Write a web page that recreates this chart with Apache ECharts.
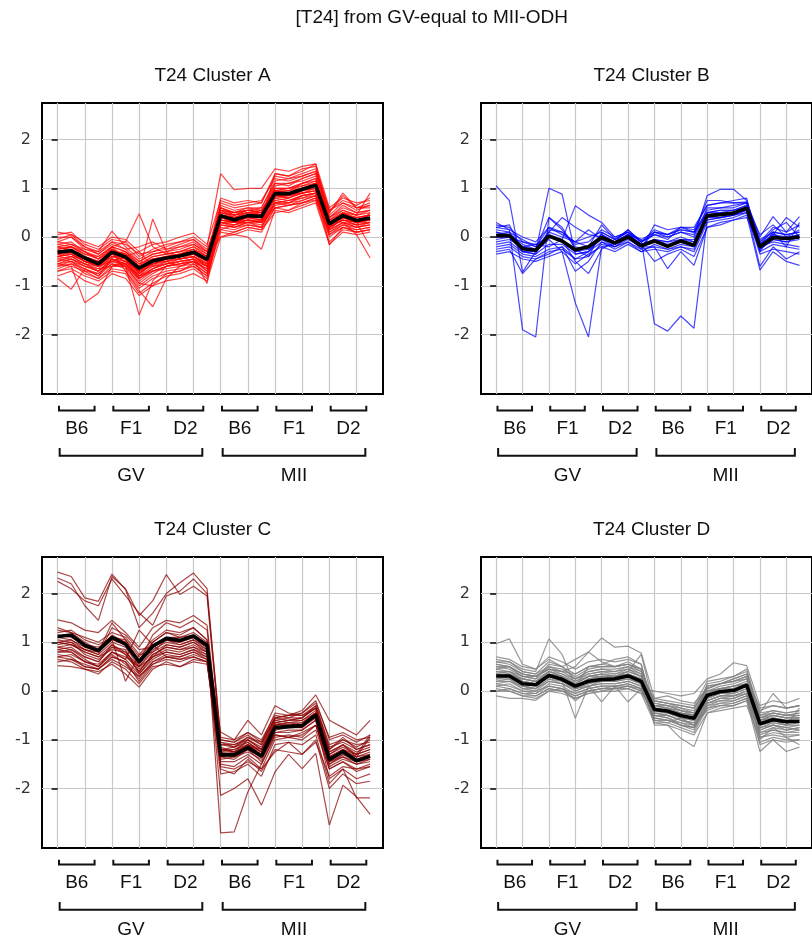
<!DOCTYPE html>
<html>
<head>
<meta charset="utf-8">
<script src="https://cdn.jsdelivr.net/npm/echarts@6/dist/echarts.min.js"></script>
<style>
  html, body { margin: 0; padding: 0; background: #fff; }
  #chart { width: 812px; height: 943px; }
</style>
</head>
<body>
<div id="chart"></div>
<script>
// ---- text ----
const figureTitle = '[T24] from GV-equal to MII-ODH';
const panelTitles = ['T24 Cluster A', 'T24 Cluster B', 'T24 Cluster C', 'T24 Cluster D'];
const strainLabels = ['B6', 'F1', 'D2', 'B6', 'F1', 'D2'];
const stageLabels = ['GV', 'MII'];

// ---- ticks ----
const yTickValues = [-2, -1, 0, 1, 2];
const xGridValues = [0, 2, 4, 6, 8, 10, 12, 14, 16, 18, 20, 22];

// ---- cluster A : mean profile and member genes (24 samples) ----
const meanA = [-0.31,-0.28,-0.43,-0.55,-0.31,-0.41,-0.64,-0.49,-0.43,-0.39,-0.31,-0.46, 0.44,0.35,0.44,0.42,0.89,0.89,0.98,1.06,0.27,0.44,0.34,0.39];
const profilesA = [
  [-0.05,0.05,-0.2,-0.35,-0.1,-0.15,-0.35,-0.3,-0.2,-0.1,-0.05,-0.3, 0.6,0.5,0.55,0.5,1.1,1.05,1.2,1.3,0.4,0.6,0.5,0.55],
  [-0.5,-0.45,-0.6,-0.7,-0.45,-0.55,-0.9,-0.7,-0.6,-0.55,-0.5,-0.65, 0.3,0.2,0.3,0.25,0.7,0.75,0.8,0.9,0.1,0.3,0.2,0.25],
  [-0.2,-0.15,-0.3,-0.45,-0.2,-0.1,0.48,-0.2,-0.35,-0.3,-0.2,-0.4, 0.5,0.4,0.45,0.5,0.95,0.9,1.0,1.1,0.3,0.5,0.4,0.45],
  [-0.4,-0.35,-0.5,-0.6,-0.35,-0.5,-0.7,0.37,-0.3,-0.45,-0.4,-0.55, 0.35,0.3,0.4,0.35,0.85,0.8,0.95,1.0,0.2,0.4,0.3,0.35],
  [-0.55,-0.6,-1.35,-1.15,-0.6,-0.55,-0.8,-0.65,-0.5,-0.6,-0.5,-0.7, 0.2,0.15,0.25,0.2,0.7,0.65,0.75,0.85,0.05,0.25,0.15,0.2],
  [-0.4,-0.3,-0.5,-0.6,-0.5,-0.6,-1.6,-0.9,-0.6,-0.5,-0.45,-0.6, 0.45,0.4,0.5,0.45,0.9,0.95,1.0,1.1,0.3,0.45,0.35,0.4],
  [-0.3,-0.25,-0.45,-0.5,-0.3,-0.7,-1.1,-1.43,-0.85,-0.6,-0.5,-0.6, 0.4,0.3,0.4,0.4,0.85,0.85,0.95,1.05,0.25,0.4,0.3,0.35],
  [-0.85,-1.07,-0.65,-0.8,-0.55,-0.6,-0.85,-0.7,-0.65,-0.6,-0.55,-0.75, 0.15,0.1,0.2,0.15,0.6,0.65,0.7,0.8,0.0,0.2,0.1,0.15],
  [0.05,0.1,-0.15,-0.25,-0.05,-0.1,-0.4,-0.25,-0.15,-0.1,0.0,-0.2, 1.3,0.97,1.0,1.0,1.4,1.35,1.45,1.5,0.6,0.8,0.7,0.75],
  [-0.6,-0.5,-0.7,-0.75,-0.55,-0.65,-1.0,-0.8,-0.7,-0.65,-0.6,-0.8, 0.1,0.05,0.0,-0.25,0.55,0.5,0.6,0.7,-0.15,0.1,0.05,0.1],
  [-0.25,-0.2,-0.35,-0.45,-0.25,-0.35,-0.55,-0.45,-0.4,-0.35,-0.25,-0.4, 0.5,0.45,0.5,0.45,0.95,0.9,1.0,1.1,0.35,0.3,0.05,-0.43],
  [-0.15,-0.1,-0.3,-0.4,-0.2,-0.3,-0.5,-0.35,-0.3,-0.25,-0.15,-0.35, 0.55,0.5,0.55,0.55,1.0,1.0,1.1,1.2,0.4,0.55,0.45,0.5],
  [-0.7,-0.65,-0.8,-0.9,-0.7,-0.75,-1.15,-0.95,-0.8,-0.75,-0.65,-0.85, 0.25,0.2,0.3,0.3,0.75,0.7,0.85,0.9,0.15,0.3,0.25,0.3],
  [-0.35,-0.4,-0.45,-0.55,-0.25,-0.45,-0.6,-0.55,-0.45,-0.4,-0.3,-0.5, 0.65,0.55,0.6,0.6,1.15,1.2,1.25,1.35,0.45,0.7,0.55,0.65],
  [-0.1,0.0,-0.25,-0.3,0.12,-0.2,-0.45,-0.3,-0.25,-0.2,-0.1,-0.3, 0.35,0.3,0.35,0.3,0.8,0.85,0.9,0.95,0.2,0.35,0.3,0.3],
  [-0.45,-0.4,-0.55,-0.65,-0.4,-0.45,-0.75,-0.55,-0.5,-0.45,-0.4,-0.55, 0.7,0.6,0.65,0.7,1.25,1.2,1.3,1.4,0.5,0.85,0.6,0.7],
  [-0.2,-0.25,-0.4,-0.5,-0.35,-0.3,-0.6,-0.4,-0.35,-0.3,-0.25,-0.4, 0.0,0.1,0.2,0.15,0.5,0.55,0.65,0.75,-0.1,0.15,0.1,0.15],
  [-0.55,-0.5,-0.6,-0.65,-0.6,-0.5,-0.8,-0.6,-0.55,-0.5,-0.45,-0.95, 0.4,0.35,0.4,0.35,0.9,0.85,0.95,1.05,0.2,0.5,0.35,0.4],
  [-0.3,-0.3,-0.4,-0.5,-0.3,-0.4,-0.3,-0.6,-0.4,-0.4,-0.35,-0.45, 0.55,0.4,0.5,0.55,0.95,1.0,1.05,1.1,0.3,0.45,0.4,0.45],
  [-0.65,-0.55,-0.75,-0.85,-0.6,-0.6,-0.95,-1.0,-0.75,-0.7,-0.55,-0.75, 0.3,0.25,0.35,0.3,0.7,0.75,0.85,0.9,0.2,0.35,0.25,0.3],
  [0.0,0.0,-0.2,-0.3,-0.1,-0.25,-0.2,-0.1,-0.25,-0.15,-0.05,-0.25, 0.45,0.35,0.45,0.4,1.0,0.95,1.1,1.15,0.35,0.55,0.45,0.9],
  [-0.4,-0.35,-0.5,-0.55,-0.4,-0.5,-0.7,-0.55,-0.45,-0.45,-0.35,-0.5, 0.6,0.5,0.6,0.55,0.85,0.9,0.9,1.0,0.25,0.4,0.3,0.35],
  [-0.25,-0.2,-0.3,-0.45,-0.3,-0.35,-0.65,-0.45,-0.4,-0.35,-0.3,-0.4, 0.3,0.25,0.35,0.35,1.3,1.25,1.35,1.5,0.3,0.5,0.35,0.4],
  [-0.5,-0.4,-0.55,-0.7,-0.45,-0.5,-0.85,-0.65,-0.55,-0.5,-0.45,-0.6, 0.5,0.45,0.5,0.5,0.85,0.85,0.95,1.0,0.3,0.4,0.3,0.35],
  [-0.35,-0.3,-0.45,-0.6,-0.4,-0.4,-0.75,-0.5,-0.5,-0.4,-0.35,-0.55, 0.4,0.3,0.4,0.4,0.85,0.8,0.9,0.95,-0.16,0.2,0.15,0.2],
  [-0.15,-0.2,-0.35,-0.4,-0.2,-0.3,-0.55,-0.4,-0.35,-0.3,-0.2,-0.35, 0.55,0.45,0.55,0.5,1.05,1.1,1.15,1.25,0.5,0.9,0.6,0.6],
  [-0.6,-0.55,-0.65,-0.75,-0.5,-0.55,-0.8,-0.7,-0.6,-0.55,-0.5,-0.65, 0.35,0.3,0.35,0.3,0.6,0.65,0.7,0.76,0.25,0.35,0.3,-0.19],
  [-0.3,-0.35,-0.5,-0.6,-0.35,-0.45,-0.7,-0.5,-0.45,-0.4,-0.3,-0.5, 0.45,0.4,0.45,0.45,0.75,0.8,0.9,0.95,0.35,0.45,0.4,0.45],
  [-0.8,-0.7,-0.9,-1.0,-0.75,-0.85,-1.2,-1.0,-0.9,-0.85,-0.75,-0.9, 0.0,0.05,0.15,0.1,0.6,0.55,0.7,0.8,0.05,0.2,0.1,0.15],
  [0.1,0.05,-0.1,-0.2,0.0,-0.05,-0.3,-0.15,-0.1,0.0,0.08,-0.15, 0.75,0.65,0.7,0.75,1.2,1.15,1.25,1.35,0.55,0.75,0.65,0.8],
  [-0.45,-0.5,-0.65,-0.8,-0.45,-0.6,-0.95,-0.75,-0.6,-0.55,-0.45,-0.7, 0.55,0.5,0.55,0.6,1.1,1.1,1.2,1.3,0.4,0.65,0.5,0.55],
  [-0.25,-0.2,-0.4,-0.55,-0.2,-0.45,-0.8,-0.5,-0.4,-0.35,-0.25,-0.5, 0.25,0.2,0.25,0.2,0.7,0.7,0.8,0.85,0.15,0.3,0.2,0.25],
  [-0.55,-0.45,-0.6,-0.7,-0.5,-0.4,-0.7,-0.6,-0.5,-0.45,-0.4,-0.6, 0.6,0.45,0.55,0.5,0.95,0.95,1.05,1.15,0.35,0.5,0.45,0.55],
  [-0.1,-0.15,-0.25,-0.35,-0.15,-0.25,-0.5,-0.35,-0.3,-0.2,-0.15,-0.3, 0.15,0.25,0.3,0.2,0.65,0.7,0.75,0.85,0.1,0.25,0.2,0.3],
  [-0.7,-0.6,-0.7,-0.85,-0.65,-0.7,-1.05,-0.85,-0.75,-0.7,-0.6,-0.8, 0.45,0.4,0.45,0.45,1.0,1.0,1.1,1.2,0.3,0.5,0.35,0.45],
  [-0.35,-0.25,-0.45,-0.55,-0.3,-0.35,-0.6,-0.45,-0.4,-0.35,-0.3,-0.45, 0.8,0.7,0.75,0.7,1.3,1.25,1.4,1.45,0.55,0.7,0.6,0.65],
  [-0.2,-0.3,-0.5,-0.6,-0.25,-0.4,-0.75,-0.55,-0.45,-0.4,-0.3,-0.45, 0.35,0.3,0.3,0.35,0.8,0.75,0.85,0.9,0.2,0.35,0.25,0.5],
  [-0.4,-0.45,-0.55,-0.6,-0.45,-0.55,-0.85,-0.65,-0.55,-0.45,-0.4,-0.6, 0.3,0.3,0.35,0.3,0.95,0.9,1.0,1.05,0.15,0.4,0.3,0.4]
];

// ---- cluster B ----
const meanB = [0.03,0.03,-0.24,-0.27,0.02,-0.08,-0.26,-0.2,-0.01,-0.12,0.0,-0.18, -0.08,-0.19,-0.08,-0.17,0.44,0.46,0.49,0.6,-0.2,-0.01,-0.03,0.0];
const profilesB = [
  [1.05,0.75,-0.72,-0.3,0.0,-0.1,-0.3,-0.2,0.05,-0.1,0.05,-0.15, -0.05,-0.15,-0.05,-0.1,0.5,0.55,0.55,0.65,-0.2,0.0,-0.05,0.05],
  [0.3,0.15,-1.9,-2.05,0.4,0.15,-0.2,-0.25,-0.05,-0.15,0.0,-0.2, -0.1,-0.2,-0.1,-0.2,0.4,0.45,0.5,0.6,-0.25,-0.05,-0.1,-0.05],
  [0.1,0.0,-0.3,-0.3,1.0,0.88,-0.35,-0.3,0.0,-0.1,0.05,-0.15, -0.05,-0.1,0.0,-0.1,0.45,0.5,0.5,0.6,-0.15,0.05,0.0,0.05],
  [-0.1,-0.05,-0.2,-0.15,-0.2,-0.05,0.64,0.45,0.3,0.0,0.1,-0.1, 0.1,0.05,0.15,0.1,0.55,0.6,0.65,0.7,-0.1,0.2,0.1,0.25],
  [0.0,0.05,-0.25,-0.3,-0.05,-0.3,-1.35,-2.05,-0.2,-0.15,0.0,-0.2, -0.1,-0.2,-0.1,-0.15,0.4,0.4,0.45,0.55,-0.25,-0.05,-0.1,0.0],
  [0.25,0.2,-0.1,-0.2,0.05,-0.05,-0.5,-0.75,-0.25,-0.1,0.05,-0.05, -1.78,-1.93,-1.62,-1.87,0.35,0.4,0.45,0.55,-0.2,0.05,-0.05,0.0],
  [-0.3,-0.25,-0.75,-0.45,-0.35,-0.2,-0.7,-0.5,-0.1,-0.2,-0.05,-0.2, -0.2,-0.65,-0.3,-0.58,0.2,0.25,0.35,0.45,-0.68,-0.3,-0.5,-0.58],
  [0.15,0.1,-0.05,-0.2,0.2,0.1,-0.15,-0.1,0.15,0.0,0.1,-0.1, 0.05,0.0,0.1,0.0,0.85,0.98,0.98,0.75,-0.1,0.1,0.05,0.1],
  [-0.2,-0.15,-0.35,-0.4,-0.25,-0.2,-0.45,-0.3,-0.1,-0.25,-0.1,-0.3, -0.25,-0.3,-0.2,-0.3,0.3,0.35,0.4,0.5,-0.35,-0.25,-0.3,-0.35],
  [0.05,0.1,-0.2,-0.25,0.1,0.0,-0.1,-0.2,0.25,-0.05,0.15,-0.1, 0.15,0.05,0.2,0.15,0.65,0.7,0.7,0.72,0.0,0.42,0.1,0.42],
  [-0.05,0.0,-0.1,-0.15,0.0,-0.1,-0.3,-0.25,0.05,-0.1,0.05,-0.15, -0.05,-0.1,-0.05,-0.05,0.6,0.6,0.6,0.7,-0.15,0.05,0.4,0.2],
  [0.2,0.25,-0.3,-0.35,0.15,0.1,-0.1,0.15,-0.05,-0.2,0.0,-0.25, 0.25,0.15,0.2,0.2,0.65,0.7,0.75,0.8,-0.3,0.1,-0.2,0.3],
  [-0.35,-0.3,-0.45,-0.5,-0.4,-0.3,-0.55,-0.35,-0.2,-0.3,-0.15,-0.3, -0.15,-0.25,-0.15,-0.2,0.45,0.45,0.5,0.55,-0.6,-0.2,-0.45,-0.3],
  [0.1,0.05,-0.15,-0.25,0.4,0.2,-0.25,-0.4,0.1,-0.05,0.1,-0.2, 0.1,0.0,0.1,0.05,0.5,0.55,0.55,0.65,0.05,0.25,0.0,0.15],
  [-0.15,-0.1,-0.3,-0.35,-0.15,-0.15,-0.35,-0.3,0.0,-0.15,0.05,-0.15, -0.5,-0.35,-0.25,-0.4,0.2,0.3,0.35,0.4,-0.2,-0.1,-0.15,-0.2],
  [0.0,0.0,-0.2,-0.3,0.1,0.4,0.2,0.05,0.0,-0.1,0.15,-0.1, 0.05,-0.05,0.2,0.1,0.75,0.75,0.7,0.7,-0.15,0.15,0.3,0.0],
  [0.2,0.15,0.0,-0.1,0.2,0.05,-0.1,0.0,0.1,-0.05,0.1,-0.05, 0.1,0.05,0.15,0.1,0.5,0.5,0.55,0.6,-0.05,0.1,0.05,0.1],
  [-0.25,-0.2,-0.4,-0.45,-0.3,-0.25,-0.45,-0.4,-0.15,-0.2,-0.1,-0.25, -0.2,-0.25,-0.2,-0.25,0.35,0.4,0.45,0.5,-0.3,-0.15,-0.2,-0.25]
];

// ---- cluster C ----
const meanC = [1.12,1.15,0.94,0.83,1.1,0.96,0.6,0.92,1.08,1.04,1.13,0.94, -1.31,-1.31,-1.16,-1.34,-0.75,-0.73,-0.71,-0.49,-1.41,-1.24,-1.43,-1.34];
const profilesC = [
  [2.44,2.35,1.91,1.84,2.4,2.08,1.3,1.6,2.0,2.22,2.42,2.1, -1.0,-1.05,-0.9,-1.1,-0.55,-0.5,-0.5,-0.3,-1.1,-1.0,-1.15,-1.0],
  [2.32,2.2,1.75,1.45,2.35,2.1,1.55,1.85,2.39,1.98,2.15,1.95, -1.1,-1.15,-1.0,-1.2,-0.65,-0.6,-0.6,-0.45,-1.25,-1.1,-1.25,-1.15],
  [2.25,2.1,1.85,1.75,2.3,1.95,1.6,1.35,1.95,2.05,2.3,2.0, -0.95,-1.0,-0.85,-1.0,-0.5,-0.55,-0.45,-0.2,-1.0,-0.9,-1.05,-0.9],
  [1.46,1.4,1.25,1.2,1.45,1.2,0.9,1.3,1.45,1.4,1.55,1.35, -1.2,-1.2,-1.05,-1.25,-0.7,-0.7,-0.65,-0.45,-1.35,-1.2,-1.35,-1.25],
  [1.25,1.2,1.0,0.85,1.15,1.0,0.55,1.0,1.2,1.15,1.3,1.05, -2.91,-2.89,-2.07,-1.5,-0.9,-0.95,-0.85,-0.7,-1.5,-1.35,-1.5,-1.4],
  [1.0,1.05,0.85,0.75,1.0,0.9,0.5,0.85,1.0,0.95,1.05,0.85, -2.14,-2.0,-1.8,-2.34,-1.66,-1.3,-1.59,-1.28,-2.75,-1.93,-2.17,-2.53],
  [0.85,0.9,0.7,0.6,0.95,0.75,0.4,0.75,0.9,0.85,0.95,0.8, -1.4,-1.35,-1.25,-1.4,-0.85,-0.8,-0.8,-0.6,-1.8,-1.6,-2.19,-2.19],
  [0.52,0.5,0.45,0.4,0.55,0.35,0.08,0.45,0.6,0.5,0.6,0.55, -1.3,-1.25,-1.15,-1.3,-0.75,-0.7,-0.7,-0.55,-1.45,-1.3,-1.4,-1.35],
  [1.1,1.15,0.9,0.8,1.05,0.2,0.75,0.8,1.05,1.0,1.1,0.9, -1.25,-1.3,-1.1,-1.3,-0.7,-0.65,-0.7,-0.45,-1.4,-1.2,-1.4,-1.3],
  [0.75,0.7,0.5,0.45,0.7,0.6,0.3,0.6,0.75,0.7,0.8,0.65, -1.05,-1.1,-0.95,-1.05,-0.45,-0.5,-0.4,-0.08,-0.6,-0.75,-0.9,-0.6],
  [0.9,0.95,0.8,0.7,0.85,0.8,0.45,0.7,0.85,0.8,0.9,0.75, -1.5,-1.55,-1.35,-1.6,-1.0,-0.95,-1.0,-0.8,-1.6,-1.45,-1.6,-1.5],
  [1.2,1.25,1.05,0.95,1.1,1.05,0.7,1.0,1.2,1.1,1.2,1.0, -0.84,-1.0,-0.6,-0.9,-0.3,-0.45,-0.5,-0.35,-1.2,-0.95,-1.2,-1.1],
  [0.65,0.6,0.45,0.35,0.6,0.45,0.15,0.5,0.55,0.5,0.65,0.6, -1.7,-1.65,-1.5,-1.75,-1.1,-1.05,-1.1,-0.9,-1.9,-1.6,-1.8,-1.7],
  [1.05,1.0,0.85,0.75,1.3,1.15,0.85,0.9,1.05,0.95,1.05,0.9, -1.15,-1.25,-1.0,-1.2,-0.6,-0.65,-0.6,-0.4,-1.3,-1.15,-1.3,-1.2],
  [0.8,0.85,0.65,0.5,0.8,0.65,1.25,0.95,0.7,0.7,0.8,0.7, -1.35,-1.4,-1.2,-1.35,-0.8,-0.75,-0.75,-0.55,-1.5,-1.3,-1.45,-1.35],
  [0.95,1.0,0.75,0.65,0.9,0.85,0.35,0.7,0.95,0.9,1.0,0.8, -1.2,-1.15,-1.05,-1.25,-0.65,-0.6,-0.55,-0.35,-1.3,-1.1,-1.35,-1.3],
  [0.7,0.75,0.6,0.5,0.75,0.55,0.25,0.6,0.7,0.65,0.75,0.65, -1.6,-1.7,-1.4,-1.65,-1.2,-1.25,-1.3,-1.05,-1.75,-1.55,-1.6,-1.55],
  [1.15,1.1,0.95,0.9,1.1,1.0,0.65,0.95,1.1,1.1,1.15,0.95, -1.05,-1.15,-0.95,-1.1,-0.55,-0.6,-0.55,-0.3,-1.15,-1.05,-1.2,-1.1],
  [0.85,0.8,0.6,0.55,0.8,0.7,0.5,0.7,0.8,0.75,0.85,0.75, -1.35,-1.3,-1.2,-1.45,-0.85,-0.85,-0.8,-0.6,-1.55,-1.4,-1.5,-1.45],
  [1.0,0.95,0.85,0.8,1.4,1.05,0.6,1.15,1.4,1.3,1.45,1.25, -1.2,-1.25,-1.1,-1.2,-0.7,-0.65,-0.65,-0.45,-1.25,-1.1,-1.3,-0.9],
  [0.6,0.65,0.5,0.45,0.65,0.5,0.3,0.55,0.65,0.6,0.7,0.6, -1.45,-1.45,-1.3,-1.5,-0.95,-0.9,-0.95,-0.7,-1.6,-1.45,-1.65,-1.55],
  [1.3,1.2,1.1,1.0,1.2,1.1,0.75,1.05,1.25,1.2,1.3,1.05, -1.25,-1.2,-1.1,-1.25,-0.65,-0.7,-0.7,-0.5,-1.35,-1.25,-1.35,-0.95],
  [0.9,0.85,0.7,0.6,0.9,0.75,0.4,0.75,0.9,0.85,0.9,0.8, -1.1,-1.1,-1.0,-1.15,-0.6,-0.55,-0.55,-0.35,-1.2,-1.0,-1.1,-1.05],
  [1.1,1.05,0.9,0.85,1.05,0.95,0.55,0.9,1.05,1.0,1.1,0.9, -1.55,-1.6,-1.45,-1.6,-1.25,-1.05,-1.3,-1.0,-2.0,-1.7,-1.9,-1.85],
  [0.7,0.65,0.55,0.45,0.7,0.6,0.2,0.55,0.7,0.65,0.7,0.6, -1.2,-1.25,-1.1,-1.3,-0.75,-0.7,-0.75,-0.5,-1.35,-1.2,-1.3,-1.2],
  [1.0,0.95,0.8,0.7,0.95,0.8,0.5,0.8,0.95,0.9,1.0,0.85, -1.0,-1.05,-0.85,-1.05,-0.55,-0.5,-0.45,-0.25,-0.95,-0.85,-1.0,-0.95],
  [0.8,0.8,0.6,0.5,0.8,0.65,0.35,0.65,0.8,0.75,0.85,0.7, -1.3,-1.35,-1.2,-1.35,-0.9,-0.95,-0.9,-0.7,-1.45,-1.35,-1.45,-1.4]
];

// ---- cluster D ----
const meanD = [0.31,0.31,0.15,0.13,0.32,0.24,0.1,0.2,0.24,0.25,0.31,0.2, -0.38,-0.41,-0.5,-0.56,-0.09,-0.01,0.01,0.12,-0.67,-0.59,-0.63,-0.62];
const profilesD = [
  [0.97,1.07,0.55,0.45,0.65,0.5,0.25,0.4,0.45,0.4,0.5,0.35, -0.2,-0.25,-0.3,-0.35,0.1,0.15,0.2,0.3,-0.5,-0.4,-0.45,-0.4],
  [0.65,0.6,0.45,0.4,1.07,0.75,0.1,0.5,0.55,0.5,0.6,0.45, -0.3,-0.35,-0.4,-0.5,0.0,0.05,0.1,0.2,-0.6,-0.5,-0.55,-0.55],
  [0.55,0.5,0.3,0.25,0.55,0.5,0.65,0.8,1.09,0.9,0.92,0.78, -0.15,-0.2,-0.25,-0.3,0.2,0.25,0.3,0.4,-0.4,-0.3,-0.35,-0.3],
  [-0.1,-0.15,-0.15,-0.19,0.0,0.05,-0.2,0.0,0.05,0.1,0.15,0.05, -0.55,-0.6,-0.7,-0.8,-0.3,-0.2,-0.2,-0.1,-0.9,-0.8,-0.85,-0.85],
  [0.3,0.35,0.1,0.05,0.35,0.2,-0.56,0.1,0.2,0.2,0.25,0.15, -0.4,-0.45,-0.55,-0.6,-0.15,-0.05,-0.05,0.05,-0.75,-0.65,-0.7,-0.7],
  [0.2,0.25,0.05,0.0,0.2,0.15,0.05,0.1,-0.22,0.1,-0.22,0.05, -0.45,-0.5,-0.6,-0.65,-0.2,-0.1,-0.1,0.0,-0.8,-0.7,-0.75,-0.7],
  [0.4,0.4,0.25,0.2,0.4,0.3,0.15,0.3,0.35,0.35,0.4,0.3, -0.7,-0.7,-0.97,-1.14,-0.45,-0.35,-0.3,-0.2,-1.24,-1.0,-1.24,-1.15],
  [0.15,0.1,0.0,-0.05,0.15,0.1,-0.05,0.05,0.1,0.1,0.15,0.05, 0.0,-0.05,-0.1,-0.05,0.25,0.35,0.58,0.52,-0.3,-0.2,-0.25,-0.15],
  [0.5,0.45,0.3,0.3,0.45,0.35,0.2,0.35,0.4,0.4,0.45,0.35, -0.25,-0.3,-0.35,-0.45,0.05,0.15,0.25,0.35,-0.45,-0.05,-0.35,-0.3],
  [0.25,0.3,0.15,0.1,0.3,0.2,0.05,0.15,0.2,0.2,0.3,0.15, -0.5,-0.55,-0.65,-0.7,-0.25,-0.2,-0.15,-0.05,-0.95,-0.85,-0.9,-0.9],
  [0.1,0.15,0.0,0.0,0.1,0.05,-0.1,0.0,0.05,0.05,0.1,0.0, -0.35,-0.4,-0.45,-0.5,-0.1,0.0,0.0,0.1,-0.6,-0.55,-0.6,-0.55],
  [0.6,0.55,0.4,0.35,0.5,0.45,0.3,0.45,0.5,0.5,0.55,0.4, -0.35,-0.35,-0.45,-0.5,-0.05,0.05,0.1,0.15,-0.55,-0.5,-0.55,-0.5],
  [0.35,0.3,0.2,0.15,0.3,0.25,0.1,0.25,0.3,0.3,0.35,0.25, -0.6,-0.65,-0.75,-0.85,-0.35,-0.3,-0.25,-0.15,-1.05,-0.95,-1.0,-1.0],
  [0.05,0.0,-0.1,-0.1,0.05,0.0,-0.15,-0.05,0.0,0.05,0.05,-0.05, -0.3,-0.3,-0.4,-0.45,0.0,0.05,0.1,0.15,-0.55,-0.45,-0.5,-0.45],
  [0.45,0.5,0.35,0.3,0.45,0.4,0.35,0.5,0.55,0.65,0.7,0.55, -0.45,-0.5,-0.6,-0.65,-0.2,-0.1,-0.05,0.05,-0.7,-0.6,-0.65,-0.65],
  [0.2,0.2,0.05,0.05,0.25,0.15,0.0,0.1,0.15,0.15,0.2,0.1, -0.65,-0.65,-0.55,-0.7,-0.4,-0.3,-0.3,-0.2,-0.85,-0.75,-0.8,-0.75],
  [0.3,0.35,0.2,0.15,0.3,0.25,0.15,0.3,0.3,0.3,0.35,0.25, -0.2,-0.25,-0.35,-0.4,0.1,0.15,0.25,0.35,-0.6,-0.55,-0.6,-0.6],
  [0.7,0.65,0.5,0.45,0.7,0.6,0.45,0.6,0.65,0.6,0.65,0.55, -0.5,-0.55,-0.7,-0.75,-0.25,-0.15,-0.1,-0.05,-0.65,-0.6,-0.7,-0.65],
  [0.0,0.05,-0.05,-0.1,0.05,0.0,-0.1,0.0,0.05,0.05,0.1,0.0, -0.55,-0.6,-0.65,-0.75,-0.35,-0.25,-0.25,-0.15,-1.1,-1.0,-1.05,-1.0],
  [0.35,0.3,0.25,0.2,0.35,0.3,0.2,0.3,0.35,0.3,0.4,0.75, -0.35,-0.4,-0.5,-0.55,-0.1,0.0,0.05,0.15,-0.7,-0.65,-0.7,-0.35],
  [0.5,0.5,0.35,0.3,0.5,0.4,0.5,0.8,0.6,0.5,0.55,0.45, -0.25,-0.3,-0.4,-0.45,0.0,0.1,0.15,0.25,-0.5,-0.45,-0.5,-0.45],
  [0.15,0.2,0.1,0.05,0.2,0.15,0.0,0.1,0.15,0.15,0.2,0.1, -0.4,-0.45,-0.5,-0.55,-0.2,-0.1,-0.1,0.0,-0.8,-0.7,-0.75,-0.8],
  [0.45,0.4,0.3,0.25,0.4,0.35,0.25,0.35,0.4,0.35,0.45,0.3, -0.15,-0.1,-0.2,-0.25,0.05,0.15,0.2,0.25,-0.35,-0.3,-0.35,-0.3],
  [0.25,0.25,0.1,0.05,0.25,0.2,0.05,0.15,0.25,0.2,0.25,0.15, -0.6,-0.6,-0.7,-0.75,-0.3,-0.25,-0.2,-0.1,-0.75,-0.7,-0.8,-0.75],
  [0.55,0.5,0.35,0.3,0.45,0.4,0.25,0.4,0.45,0.45,0.5,0.4, -0.45,-0.45,-0.55,-0.6,0.15,0.2,0.3,0.45,-0.55,-0.45,-0.5,-0.5],
  [0.1,0.05,-0.05,-0.05,0.1,0.05,-0.05,0.05,0.1,0.1,0.1,0.05, -0.5,-0.5,-0.6,-0.7,-0.25,-0.15,-0.15,-0.05,-0.85,-0.8,-0.85,-0.8],
  [0.35,0.4,0.2,0.15,0.4,0.3,0.1,0.25,0.3,0.3,0.35,0.25, -0.3,-0.35,-0.45,-0.5,-0.05,0.05,0.05,0.15,-1.0,-0.75,-0.95,-1.1],
  [0.6,0.6,0.4,0.35,0.6,0.5,0.35,0.5,0.5,0.5,0.55,0.45, -0.4,-0.4,-0.5,-0.55,-0.15,-0.05,0.0,0.1,-0.45,-0.4,-0.45,-0.4],
  [0.0,0.0,-0.1,-0.15,0.0,-0.05,-0.15,-0.05,0.0,0.0,0.05,-0.05, -0.65,-0.7,-0.8,-0.9,-0.45,-0.4,-0.35,-0.3,-0.95,-0.9,-0.95,-0.9],
  [0.4,0.35,0.25,0.2,0.35,0.3,0.15,0.3,0.35,0.3,0.4,0.3, -0.2,-0.25,-0.3,-0.35,0.05,0.15,0.2,0.3,-0.6,-0.5,-0.55,-0.55]
];

// ---- layout and styling ----
const X_MIN = -1.15, X_MAX = 23.95;
const Y_MIN = -3.22, Y_MAX = 2.75;
const GRID_W = 341, GRID_H = 291;
const panels = [
  { left: 42,  top: 103, color: 'rgba(255,0,0,0.72)',   profiles: profilesA, mean: meanA },
  { left: 481, top: 103, color: 'rgba(0,0,255,0.72)',   profiles: profilesB, mean: meanB },
  { left: 42,  top: 557, color: 'rgba(139,0,0,0.72)',   profiles: profilesC, mean: meanC },
  { left: 481, top: 557, color: 'rgba(128,128,128,0.8)', profiles: profilesD, mean: meanD }
];
const SANS = '"Liberation Sans", Arial, Helvetica, sans-serif';

// bracket rows under every panel: strain groups of 4 samples, stage groups of 12
const bracketRows = [];
strainLabels.forEach((_, g) => bracketRows.push([g * 4 + 0.1, g * 4 + 2.72, Y_MIN, 0, g]));
stageLabels.forEach((_, s) => bracketRows.push([s * 12 + 0.15, s * 12 + 10.65, Y_MIN, 1, s]));

function renderBracket(params, api) {
  const level = api.value(3);
  const idx = api.value(4);
  const p0 = api.coord([api.value(0), Y_MIN]);
  const p1 = api.coord([api.value(1), Y_MIN]);
  const base = p0[1];
  const hy = base + (level ? 61.7 : 16.4);
  const uy = base + (level ? 54 : 11.7);
  const ty = base + (level ? 81.4 : 34.7);
  const text = level ? stageLabels[idx] : strainLabels[idx];
  return {
    type: 'group',
    children: [
      { type: 'polyline',
        shape: { points: [[p0[0], uy], [p0[0], hy], [p1[0], hy], [p1[0], uy]] },
        style: { stroke: '#111', lineWidth: 2, fill: null } },
      { type: 'text', x: (p0[0] + p1[0]) / 2, y: ty,
        style: { text: text, font: '19px ' + SANS, fill: '#111', align: 'center', verticalAlign: 'middle' } }
    ]
  };
}

const grids = [], xAxes = [], yAxes = [], series = [], graphics = [];
panels.forEach((p, gi) => {
  grids.push({ left: p.left, top: p.top, width: GRID_W, height: GRID_H, show: true,
    borderColor: '#000', borderWidth: 2, backgroundColor: '#fff' });
  xAxes.push({ type: 'value', gridIndex: gi, min: X_MIN, max: X_MAX,
    axisLine: { show: false }, axisLabel: { show: false },
    axisTick: { show: false, customValues: xGridValues },
    splitLine: { show: true, lineStyle: { color: '#c8c8c8', width: 1.2 } } });
  yAxes.push({ type: 'value', gridIndex: gi, min: Y_MIN, max: Y_MAX,
    axisLine: { show: false },
    axisTick: { show: true, length: 6, customValues: yTickValues, lineStyle: { color: '#000', width: 1.5 } },
    axisLabel: { show: true, customValues: yTickValues, margin: 11, fontSize: 16,
      fontFamily: '"DejaVu Sans", sans-serif', color: '#333' },
    splitLine: { show: true, lineStyle: { color: '#c8c8c8', width: 1.2 } } });
  p.profiles.forEach(vals => {
    series.push({ type: 'line', xAxisIndex: gi, yAxisIndex: gi, silent: true, symbol: 'none',
      data: vals.map((v, i) => [i, v]), lineStyle: { color: p.color, width: 1.2 }, z: 2 });
  });
  series.push({ type: 'line', xAxisIndex: gi, yAxisIndex: gi, silent: true, symbol: 'none',
    data: p.mean.map((v, i) => [i, v]), lineStyle: { color: '#000', width: 3.6 }, z: 3 });
  series.push({ type: 'custom', xAxisIndex: gi, yAxisIndex: gi, silent: true, clip: false,
    renderItem: renderBracket, encode: { x: [0, 1], y: 2 }, data: bracketRows, z: 4 });
  graphics.push({ type: 'text', x: p.left + GRID_W / 2, y: p.top - 27,
    style: { text: panelTitles[gi], font: '19px ' + SANS, fill: '#111', align: 'center', verticalAlign: 'middle' } });
});
graphics.push({ type: 'text', x: 431.7, y: 17.5,
  style: { text: figureTitle, font: '19px ' + SANS, fill: '#111', align: 'center', verticalAlign: 'middle' } });

const chart = echarts.init(document.getElementById('chart'), null, { renderer: 'canvas' });
chart.setOption({
  animation: false,
  backgroundColor: '#fff',
  grid: grids,
  xAxis: xAxes,
  yAxis: yAxes,
  series: series,
  graphic: graphics
});
</script>
</body>
</html>
